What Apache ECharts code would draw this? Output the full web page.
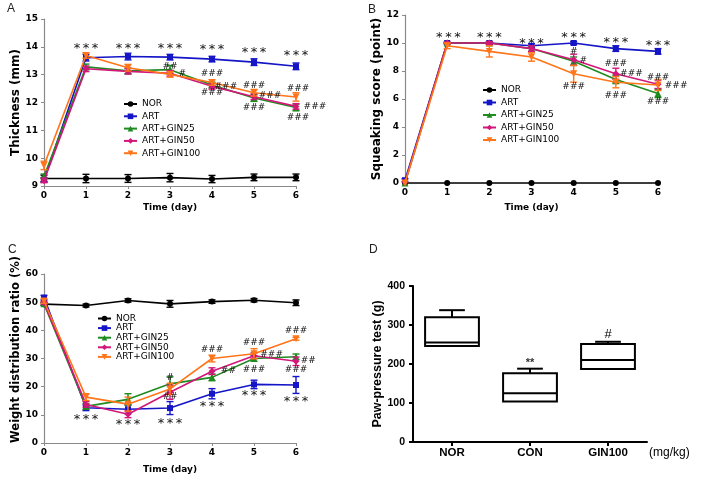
<!DOCTYPE html>
<html><head><meta charset="utf-8">
<script src="https://cdn.jsdelivr.net/npm/echarts@6/dist/echarts.min.js"></script>
<style>html,body{margin:0;padding:0;background:#fff}#c{width:703px;height:483px}</style>
</head><body><div id="c"></div>
<script>
// ---------- data ----------
const days = [0, 1, 2, 3, 4, 5, 6];
const groups = ['NOR', 'ART', 'ART+GIN25', 'ART+GIN50', 'ART+GIN100'];

// Panel A: Thickness (mm) mean / SEM
const thickNOR    = [9.27, 9.27, 9.27, 9.30, 9.25, 9.31, 9.31];
const thickART    = [9.22, 13.61, 13.65, 13.63, 13.56, 13.45, 13.30];
const thickGIN25  = [9.35, 13.28, 13.14, 13.18, 12.63, 12.16, 11.82];
const thickGIN50  = [9.20, 13.21, 13.12, 13.05, 12.58, 12.21, 11.86];
const thickGIN100 = [9.74, 13.69, 13.25, 13.01, 12.72, 12.35, 12.20];
const thickErrNOR    = [0.12, 0.15, 0.14, 0.15, 0.13, 0.12, 0.12];
const thickErrART    = [0.08, 0.12, 0.12, 0.10, 0.10, 0.12, 0.12];
const thickErrGIN25  = [0.08, 0.10, 0.10, 0.15, 0.10, 0.12, 0.12];
const thickErrGIN50  = [0.08, 0.10, 0.10, 0.10, 0.10, 0.10, 0.10];
const thickErrGIN100 = [0.15, 0.10, 0.12, 0.10, 0.10, 0.12, 0.15];

// Panel B: Squeaking score (point)
const squeakNOR    = [0, 0, 0, 0, 0, 0, 0];
const squeakART    = [0.2, 10, 10, 9.8, 10, 9.6, 9.4];
const squeakGIN25  = [0, 10, 10, 9.6, 8.7, 7.4, 6.4];
const squeakGIN50  = [0.05, 10, 10, 9.6, 8.8, 7.8, 7.05];
const squeakGIN100 = [0, 9.8, 9.4, 9.0, 7.8, 7.2, 7.0];
const squeakErrNOR    = [0, 0, 0, 0, 0, 0, 0];
const squeakErrART    = [0.1, 0.05, 0.1, 0.15, 0.1, 0.2, 0.2];
const squeakErrGIN25  = [0, 0.05, 0.1, 0.2, 0.3, 0.3, 0.3];
const squeakErrGIN50  = [0, 0.05, 0.1, 0.2, 0.4, 0.4, 0.3];
const squeakErrGIN100 = [0, 0.2, 0.4, 0.3, 0.6, 0.4, 0.4];

// Panel C: Weight distribution ratio (%)
const weightNOR    = [49.3, 48.8, 50.6, 49.4, 50.2, 50.7, 49.8];
const weightART    = [51.6, 12.5, 12.0, 12.4, 17.5, 20.8, 20.6];
const weightGIN25  = [49.4, 13.0, 15.5, 21.0, 23.3, 30.0, 30.6];
const weightGIN50  = [49.8, 13.7, 10.2, 18.0, 25.5, 31.0, 29.0];
const weightGIN100 = [50.4, 16.3, 13.8, 19.2, 30.0, 31.7, 37.0];
const weightErrNOR    = [0.5, 0.5, 0.6, 1.2, 0.6, 0.6, 1.0];
const weightErrART    = [0.8, 1.0, 1.5, 2.3, 1.8, 1.5, 3.0];
const weightErrGIN25  = [0.5, 1.0, 2.0, 2.5, 1.2, 1.0, 1.0];
const weightErrGIN50  = [0.5, 1.0, 1.2, 2.5, 1.2, 1.0, 1.5];
const weightErrGIN100 = [0.8, 1.2, 2.5, 2.0, 1.2, 1.8, 0.5];

// Significance marks [day, value level, text]
const marksA = [
  [1, 13.92, '***'], [2, 13.92, '***'], [3, 13.92, '***'], [4, 13.89, '***'], [5, 13.78, '***'], [6, 13.67, '***'],
  [3, 13.28, '##'], [3.29, 13.02, '#'],
  [4, 13.02, '###'], [4.33, 12.56, '###'], [4, 12.34, '###'],
  [5, 12.59, '###'], [5.38, 12.23, '###'], [5, 11.80, '###'],
  [6.05, 12.48, '###'], [6.45, 11.84, '###'], [6.05, 11.44, '###']
];
const marksB = [
  [1.03, 10.4, '***'], [2, 10.4, '***'], [3, 9.97, '***'], [4, 10.4, '***'], [5, 10.0, '***'], [6, 9.83, '***'],
  [4, 9.4, '#'], [4.23, 8.73, '#'], [4, 6.85, '###'],
  [5, 8.5, '###'], [5.37, 7.8, '###'], [5, 6.27, '###'],
  [6, 7.5, '###'], [6.43, 6.95, '###'], [6, 5.84, '###']
];
const marksC = [
  [1, 8.2, '***'], [2, 6.6, '***'], [3, 7.0, '***'], [4, 12.9, '***'], [5, 16.7, '***'], [6, 14.7, '***'],
  [3, 23.2, '#'], [3, 16.5, '##'],
  [4, 33.1, '###'], [4.39, 25.7, '##'],
  [5, 35.5, '###'], [5.42, 31.3, '###'], [5, 26.2, '###'],
  [6, 40.0, '###'], [6.29, 29.3, '##'], [6, 26.2, '###']
];

// Panel D: Paw-pressure test (g) box plot
const pawCats = ['NOR', 'CON', 'GIN100'];
const pawMin = [246, 104, 187];
const pawQ1  = [246, 104, 187];
const pawMed = [255, 125, 210];
const pawQ3  = [320, 176, 251];
const pawMax = [338, 188, 257];
const marksD = [[1, 210, '**'], [2, 277, '#']];

// ---------- styles ----------
const colors = ['#000000', '#1515c8', '#1f8a1f', '#d3167a', '#ff751a'];
const symbols = ['circle', 'rect', 'triangle', 'diamond', 'path://M0,0L10,0L5,9Z'];
const symSizes = [6, 6, 7, 7, 7];
const FONT = 'DejaVu Sans';
const FONT_D = 'Liberation Sans';

const panels = [
  {means: [thickNOR, thickART, thickGIN25, thickGIN50, thickGIN100],
   errs: [thickErrNOR, thickErrART, thickErrGIN25, thickErrGIN50, thickErrGIN100], marks: marksA},
  {means: [squeakNOR, squeakART, squeakGIN25, squeakGIN50, squeakGIN100],
   errs: [squeakErrNOR, squeakErrART, squeakErrGIN25, squeakErrGIN50, squeakErrGIN100], marks: marksB},
  {means: [weightNOR, weightART, weightGIN25, weightGIN50, weightGIN100],
   errs: [weightErrNOR, weightErrART, weightErrGIN25, weightErrGIN50, weightErrGIN100], marks: marksC}
];

const series = [];
panels.forEach((p, pi) => {
  groups.forEach((g, gi) => {
    const color = colors[gi];
    series.push({
      type: 'custom', xAxisIndex: pi, yAxisIndex: pi, z: 3 + gi, silent: true,
      data: days.map((d, i) => [d, p.means[gi][i] - p.errs[gi][i], p.means[gi][i] + p.errs[gi][i]]),
      encode: {x: 0, y: [1, 2]},
      renderItem(params, api) {
        if (api.value(2) - api.value(1) <= 0) return null;
        const lo = api.coord([api.value(0), api.value(1)]);
        const hi = api.coord([api.value(0), api.value(2)]);
        const w = 3.5, st = {stroke: color, lineWidth: 1.4};
        return {type: 'group', children: [
          {type: 'line', shape: {x1: lo[0], y1: lo[1], x2: hi[0], y2: hi[1]}, style: st},
          {type: 'line', shape: {x1: lo[0] - w, y1: lo[1], x2: lo[0] + w, y2: lo[1]}, style: st},
          {type: 'line', shape: {x1: hi[0] - w, y1: hi[1], x2: hi[0] + w, y2: hi[1]}, style: st}
        ]};
      }
    });
    series.push({
      type: 'line', name: g, xAxisIndex: pi, yAxisIndex: pi, z: 3 + gi,
      data: days.map((d, i) => [d, p.means[gi][i]]),
      symbol: symbols[gi], symbolSize: symSizes[gi],
      lineStyle: {color, width: 1.6}, itemStyle: {color},
      emphasis: {disabled: true}
    });
  });
  series.push({
    type: 'custom', xAxisIndex: pi, yAxisIndex: pi, z: 10, silent: true,
    data: p.marks.map(m => [m[0], m[1]]),
    encode: {x: 0, y: 1},
    renderItem(params, api) {
      const pt = api.coord([api.value(0), api.value(1)]);
      const t = p.marks[params.dataIndex][2];
      const star = t.indexOf('*') >= 0;
      return {type: 'text', x: pt[0], y: pt[1], style: {
        text: star ? t.split('').join('\u2009') : t,
        fontFamily: FONT, fontSize: star ? 13 : 9, fill: '#111',
        align: 'center', verticalAlign: 'middle'}};
    }
  });
});

// Panel D box plot
series.push({
  type: 'custom', xAxisIndex: 3, yAxisIndex: 3, silent: true,
  data: pawCats.map((c, i) => [i, pawMin[i], pawQ1[i], pawMed[i], pawQ3[i], pawMax[i]]),
  encode: {x: 0, y: [1, 2, 3, 4, 5]},
  renderItem(params, api) {
    const band = api.size([1, 0])[0];
    const bw = band * 0.69, cw = band * 0.33;
    const x = api.value(0);
    const pMin = api.coord([x, api.value(1)]), pQ1 = api.coord([x, api.value(2)]);
    const pMed = api.coord([x, api.value(3)]), pQ3 = api.coord([x, api.value(4)]);
    const pMax = api.coord([x, api.value(5)]);
    const cx = pQ1[0];
    const st = {stroke: '#000', lineWidth: 2, fill: null};
    return {type: 'group', children: [
      {type: 'line', shape: {x1: cx, y1: pQ3[1], x2: cx, y2: pMax[1]}, style: st},
      {type: 'line', shape: {x1: cx - cw / 2, y1: pMax[1], x2: cx + cw / 2, y2: pMax[1]}, style: st},
      {type: 'line', shape: {x1: cx, y1: pQ1[1], x2: cx, y2: pMin[1]}, style: st},
      {type: 'rect', shape: {x: cx - bw / 2, y: pQ3[1], width: bw, height: pQ1[1] - pQ3[1]}, style: {stroke: '#000', lineWidth: 2, fill: '#fff'}},
      {type: 'line', shape: {x1: cx - bw / 2, y1: pMed[1], x2: cx + bw / 2, y2: pMed[1]}, style: st}
    ]};
  }
});
series.push({
  type: 'custom', xAxisIndex: 3, yAxisIndex: 3, silent: true, z: 10,
  data: marksD.map(m => [m[0], m[1]]),
  encode: {x: 0, y: 1},
  renderItem(params, api) {
    const pt = api.coord([api.value(0), api.value(1)]);
    const t = marksD[params.dataIndex][2];
    const star = t.indexOf('*') >= 0;
    return {type: 'text', x: pt[0], y: pt[1] + (star ? 3 : 0), style: {
      text: t, fontFamily: FONT_D, fontSize: star ? 11 : 13, fontWeight: star ? 'bold' : 'normal',
      fill: star ? '#333' : '#000', align: 'center', verticalAlign: 'middle'}};
  }
});

// ---------- axes ----------
function timeAxis(gi, gap) {
  return {
    type: 'value', gridIndex: gi, min: 0, max: 6, interval: 1,
    name: 'Time (day)', nameLocation: 'middle', nameGap: gap,
    nameTextStyle: {fontFamily: FONT, fontWeight: 'bold', fontSize: 9, color: '#000'},
    axisLine: {show: true, onZero: false, lineStyle: {color: '#8a8a8a', width: 1.2}},
    axisTick: {show: true, length: 3, lineStyle: {color: '#8a8a8a', width: 1}},
    axisLabel: {fontFamily: FONT, fontWeight: 'bold', fontSize: 9, color: '#000', margin: 5},
    splitLine: {show: false}
  };
}
function valAxis(gi, min, max, interval, name, gap, fs, pad) {
  return {
    type: 'value', gridIndex: gi, min, max, interval,
    name, nameLocation: 'middle', nameGap: gap,
    nameTextStyle: {fontFamily: FONT, fontWeight: 'bold', fontSize: fs, color: '#000', padding: pad},
    axisLine: {show: true, onZero: false, lineStyle: {color: '#8a8a8a', width: 1.2}},
    axisTick: {show: true, length: 3, lineStyle: {color: '#8a8a8a', width: 1}},
    axisLabel: {fontFamily: FONT, fontWeight: 'bold', fontSize: 9, color: '#000', margin: 6},
    splitLine: {show: false}
  };
}
function legendAt(left, top, gap, lh) {
  return {
    data: groups, orient: 'vertical', left, top, itemGap: gap, itemWidth: 13, itemHeight: 7,
    padding: 0, selectedMode: false,
    textStyle: {fontFamily: FONT, fontSize: 9, color: '#000', lineHeight: lh}
  };
}

const chart = echarts.init(document.getElementById('c'), null, {renderer: 'canvas'});
chart.setOption({
  animation: false,
  backgroundColor: '#fff',
  title: [
    {text: 'A', left: 7, top: 3, padding: 0, textStyle: {fontFamily: FONT_D, fontSize: 12, fontWeight: 'normal', color: '#222'}},
    {text: 'B', left: 368, top: 4, padding: 0, textStyle: {fontFamily: FONT_D, fontSize: 12, fontWeight: 'normal', color: '#222'}},
    {text: 'C', left: 8, top: 244, padding: 0, textStyle: {fontFamily: FONT_D, fontSize: 12, fontWeight: 'normal', color: '#222'}},
    {text: 'D', left: 369, top: 244, padding: 0, textStyle: {fontFamily: FONT_D, fontSize: 12, fontWeight: 'normal', color: '#222'}}
  ],
  legend: [legendAt(123, 99, 2.3, 10), legendAt(482, 85, 2.5, 10), legendAt(97, 314, 0.6, 9)],
  grid: [
    {left: 44, top: 19, width: 252, height: 167},
    {left: 405, top: 15, width: 253, height: 168},
    {left: 44, top: 274, width: 252, height: 169},
    {left: 413, top: 286, width: 234, height: 156}
  ],
  xAxis: [
    timeAxis(0, 17), timeAxis(1, 20), timeAxis(2, 22),
    {
      type: 'category', gridIndex: 3, data: pawCats,
      name: '(mg/kg)', nameLocation: 'end', nameGap: 2,
      nameTextStyle: {fontFamily: FONT_D, fontSize: 12, color: '#000', verticalAlign: 'top', padding: [5, 0, 0, 0]},
      axisLine: {show: true, lineStyle: {color: '#000', width: 2}},
      axisTick: {show: true, alignWithLabel: true, length: 4, lineStyle: {color: '#000', width: 2}},
      axisLabel: {fontFamily: FONT_D, fontWeight: 'bold', fontSize: 11.5, color: '#000', margin: 5},
      splitLine: {show: false}
    }
  ],
  yAxis: [
    valAxis(0, 9, 15, 1, 'Thickness (mm)', 20, 12, 0),
    valAxis(1, 0, 12, 2, 'Squeaking score (point)', 22, 12, 0),
    valAxis(2, 0, 60, 10, 'Weight distribution ratio (%)', 21, 11.5, [0, 0, 0, 18]),
    {
      type: 'value', gridIndex: 3, min: 0, max: 400, interval: 100,
      name: 'Paw-pressure test (g)', nameLocation: 'middle', nameGap: 29,
      nameTextStyle: {fontFamily: FONT_D, fontWeight: 'bold', fontSize: 12.5, color: '#000'},
      axisLine: {show: true, lineStyle: {color: '#000', width: 2}},
      axisTick: {show: true, length: 4, lineStyle: {color: '#000', width: 2}},
      axisLabel: {fontFamily: FONT_D, fontWeight: 'bold', fontSize: 10.5, color: '#000', margin: 8},
      splitLine: {show: false}
    }
  ],
  series
});
</script>
</body></html>
